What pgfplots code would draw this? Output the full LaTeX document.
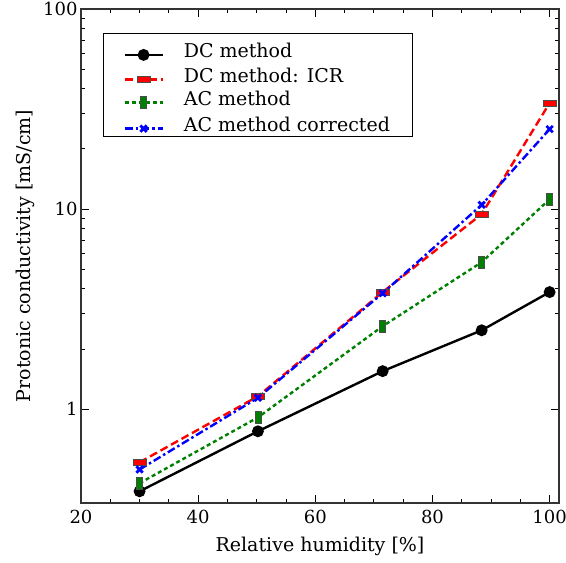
\documentclass[border=0pt]{standalone}
\usepackage{pgfplots}
\pgfplotsset{compat=1.18}
\usepackage{fontspec}
\setmainfont{DejaVu Serif}
\newcommand{\ff}{\fontsize{19}{23}\selectfont}
\newcommand{\ft}{\fontsize{18}{22}\selectfont}
\begin{document}
\begin{tikzpicture}
\path[use as bounding box] (-81pt,-60pt) rectangle (485pt,503pt);
\begin{axis}[
  at={(0,0)}, anchor=south west,
  scale only axis, width=478pt, height=494pt,
  xmin=20, xmax=101.6, ymode=log, ymin=0.34, ymax=100,
  xtick={20,40,60,80,100}, minor x tick num=3,
  ytick={1,10,100}, yticklabels={1,10,100},
  tick align=inside, xtick pos=both, ytick pos=both,
  major tick length=8pt, minor tick length=4pt,
  every tick/.style={black, line width=0.8pt},
  axis line style={line width=1.3pt, black!80},
  tick label style={font=\ft},
  xticklabel style={yshift=-4pt},
  /pgf/number format/assume math mode=true,
  label style={font=\ff},
  xlabel={Relative humidity [\%]},
  ylabel={Protonic conductivity [mS/cm]},
  xlabel style={yshift=-6pt},
  ylabel style={yshift=2pt},
  legend cell align=left,
  legend style={at={(0.046,0.9524)}, anchor=north west, font=\ff, draw=black, line width=0.8pt,
    inner xsep=20pt, inner ysep=5pt, row sep=3pt,
    nodes={text height=20pt, text depth=0pt, inner ysep=0pt},
    /tikz/every odd column/.append style={column sep=18pt}},
  legend image code/.code={
    \draw[yshift=-7pt,mark repeat=2,mark phase=2,#1] plot coordinates {(0pt,0pt) (19pt,0pt) (38pt,0pt)};
  },
]
\addplot[black, line width=2.4pt, mark=*, mark size=4.7pt, mark options={solid}]
  coordinates {(30,0.389) (50.2,0.776) (71.5,1.55) (88.4,2.48) (100,3.85)};
\addlegendentry{DC method}
\addplot[red, line width=2.4pt, dash pattern=on 8pt off 4pt, mark=square*, mark size=3pt,
  mark options={solid, xscale=2.1, fill=red, draw=black!70, line width=0.5pt}]
  coordinates {(30,0.543) (50.2,1.16) (71.5,3.85) (88.4,9.44) (100,33.9)};
\addlegendentry{DC method: ICR}
\addplot[green!50!black, line width=2.4pt, dash pattern=on 4pt off 3pt, mark=square*, mark size=3pt,
  mark options={solid, yscale=2, fill=green!50!black, draw=black!70, line width=0.5pt}]
  coordinates {(30,0.427) (50.2,0.91) (71.5,2.6) (88.4,5.43) (100,11.2)};
\addlegendentry{AC method}
\addplot[blue, line width=2.4pt, dash pattern=on 8pt off 3pt on 2.5pt off 3pt, mark=x, mark size=4.5pt,
  mark options={solid, line width=2.8pt}]
  coordinates {(30,0.50) (50.2,1.14) (71.5,3.8) (88.4,10.5) (100,25.1)};
\addlegendentry{AC method corrected}
\end{axis}
\end{tikzpicture}
\end{document}
